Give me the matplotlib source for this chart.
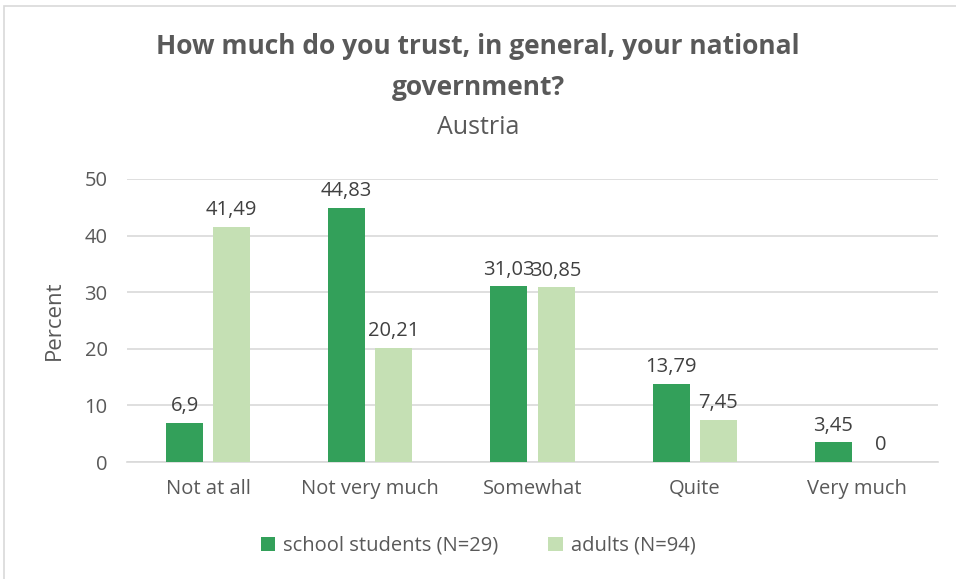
import numpy as np
import matplotlib.pyplot as plt
from matplotlib.patches import Rectangle

plt.rcParams['font.family'] = ['Open Sans', 'DejaVu Sans']

categories = ["Not at all", "Not very much", "Somewhat", "Quite", "Very much"]
students = [6.9, 44.83, 31.03, 13.79, 3.45]
adults = [41.49, 20.21, 30.85, 7.45, 0]
series_names = ["school students (N=29)", "adults (N=94)"]

txt = '#595959'
dark_green = '#33a05a'
light_green = '#c5e0b4'

fig = plt.figure(figsize=(9.56, 5.79), dpi=100)
ax = fig.add_axes([127/956, 1-462/579, (938-127)/956, (462-179)/579])

x = np.arange(len(categories))
w = 0.228
off = 0.145
b1 = ax.bar(x - off, students, width=w, color=dark_green, label=series_names[0], zorder=3)
b2 = ax.bar(x + off, adults, width=w, color=light_green, label=series_names[1], zorder=3)

for bars, vals in [(b1, students), (b2, adults)]:
    for bar, v in zip(bars, vals):
        lab = f'{v:g}'.replace('.', ',')
        ax.text(bar.get_x() + bar.get_width()/2, v + 1.2, lab, ha='center', va='bottom',
                fontsize=14.5, color='#404040')

ax.set_xlim(-0.5, len(categories) - 0.5)
ax.set_ylim(0, 50)
ax.set_yticks(range(0, 51, 10))
ax.set_xticks(x)
ax.set_xticklabels(categories)
ax.tick_params(axis='both', length=0, labelsize=14.5, colors=txt)
ax.tick_params(axis='x', pad=12)
ax.tick_params(axis='y', pad=14)
ax.grid(axis='y', color='#d9d9d9', linewidth=1.2, zorder=0)
for s in ['top', 'right', 'left']:
    ax.spines[s].set_visible(False)
ax.spines['bottom'].set_color('#d9d9d9')
ax.spines['bottom'].set_linewidth(1.2)
ax.set_ylabel("Percent", fontsize=16, color=txt, labelpad=14)

fig.text(0.5, 1-47/579, "How much do you trust, in general, your national", ha='center', va='center',
         fontsize=19, fontweight='bold', color=txt)
fig.text(0.5, 1-88/579, "government?", ha='center', va='center',
         fontsize=19, fontweight='bold', color=txt)
fig.text(0.5, 1-128/579, "Austria", ha='center', va='center', fontsize=18, color=txt)

fig.legend(loc='center', bbox_to_anchor=(0.5, 1-546/579), ncol=2, frameon=False,
           fontsize=14.5, labelcolor=txt, handlelength=0.7, handleheight=0.7,
           handletextpad=0.4, columnspacing=2.5)

fig.patches.append(Rectangle((4/956, -0.1), 1.2, 1 - 6/579 + 0.1, transform=fig.transFigure,
                             fill=False, edgecolor='#d9d9d9', linewidth=1.2))

fig.savefig("out.png", dpi=100)
